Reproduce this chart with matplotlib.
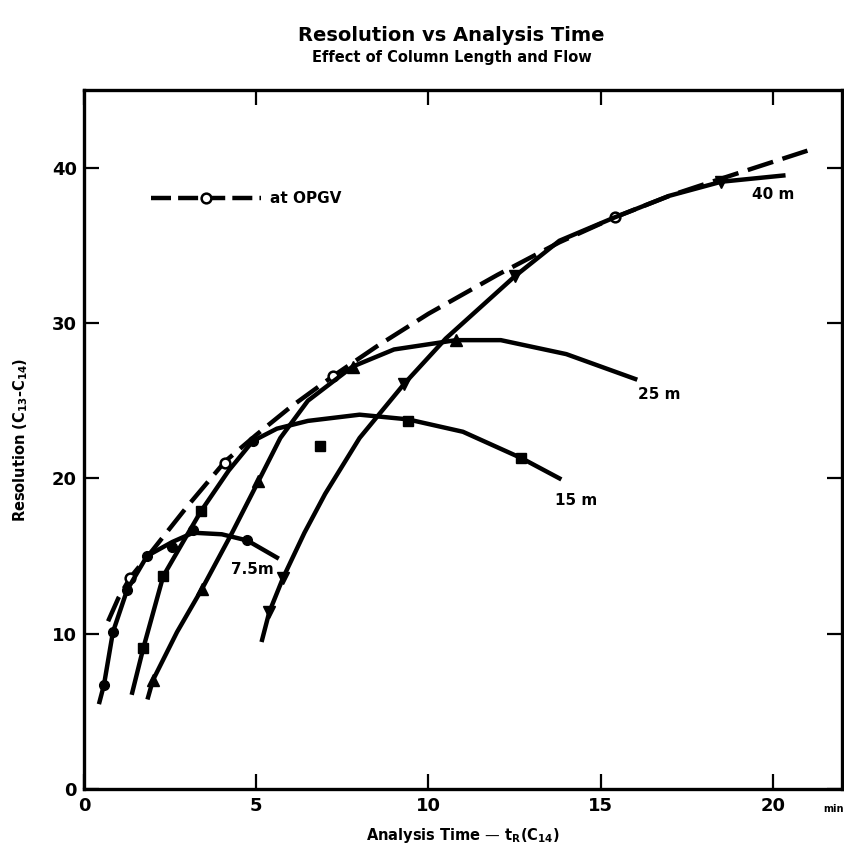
import matplotlib
matplotlib.use("Agg")
import matplotlib.pyplot as plt
from matplotlib.lines import Line2D

plt.rcParams['font.family'] = ['DejaVu Sans']
plt.rcParams['font.weight'] = 'bold'

# OPGV envelope (dashed) and its open-circle points
opgv_x = [0.7, 1.0, 1.34, 2.0, 3.0, 4.1, 5.0, 6.0, 7.24, 8.5, 10.0, 12.0, 13.8, 15.4, 17.0, 18.5, 21.0]
opgv_y = [10.8, 12.3, 13.6, 15.4, 18.2, 21.1, 22.8, 24.6, 26.6, 28.5, 30.6, 33.1, 35.2, 36.8, 38.2, 39.3, 41.1]
opgv_pts_x = [1.34, 4.1, 7.24, 15.4]
opgv_pts_y = [13.6, 21.0, 26.6, 36.8]

# 7.5 m column
c75_x = [0.45, 0.58, 0.84, 1.25, 1.83, 2.56, 3.17, 4.0, 4.74, 5.6]
c75_y = [5.6, 6.7, 10.1, 12.8, 15.0, 15.9, 16.5, 16.4, 16.0, 14.9]
c75_pts_x = [0.58, 0.84, 1.25, 1.83, 2.56, 3.17, 4.74, 4.9]
c75_pts_y = [6.7, 10.1, 12.8, 15.0, 15.6, 16.7, 16.0, 22.4]

# 15 m column
c15_x = [1.4, 1.72, 2.3, 2.9, 3.4, 4.2, 4.9, 5.6, 6.5, 8.0, 9.4, 11.0, 12.7, 13.8]
c15_y = [6.2, 9.05, 13.7, 16.0, 17.9, 20.5, 22.4, 23.2, 23.7, 24.1, 23.8, 23.0, 21.3, 20.0]
c15_pts_x = [1.72, 2.3, 3.4, 6.86, 9.4, 12.7]
c15_pts_y = [9.05, 13.7, 17.9, 22.1, 23.7, 21.3]

# 25 m column
c25_x = [1.86, 2.0, 2.7, 3.43, 4.3, 5.06, 5.7, 6.5, 7.8, 9.0, 10.8, 12.1, 14.0, 16.0]
c25_y = [5.9, 7.0, 10.1, 12.9, 16.5, 19.8, 22.6, 25.0, 27.2, 28.3, 28.9, 28.9, 28.0, 26.4]
c25_pts_x = [2.0, 3.43, 5.06, 7.8, 10.8]
c25_pts_y = [7.0, 12.9, 19.8, 27.2, 28.9]

# 40 m column
c40_x = [5.17, 5.38, 5.78, 6.4, 7.0, 8.0, 9.3, 10.5, 12.5, 13.8, 15.4, 17.0, 18.5, 20.3]
c40_y = [9.6, 11.4, 13.6, 16.5, 19.0, 22.6, 26.1, 29.0, 33.0, 35.3, 36.8, 38.2, 39.1, 39.5]
c40_pts_x = [5.38, 5.78, 9.3, 12.5, 18.5]
c40_pts_y = [11.4, 13.6, 26.1, 33.0, 39.1]

curve_labels = ['7.5m', '15 m', '25 m', '40 m']
label_x = [4.9, 14.3, 16.7, 20.0]
label_y = [14.1, 18.6, 25.4, 38.3]

fig = plt.figure(figsize=(8.44, 8.5), dpi=100)
ax = fig.add_axes([0.0995, 0.0718, 0.898, 0.8222])

lw = 3.2
ax.plot(opgv_x, opgv_y, color='black', lw=lw, dashes=(6, 2.2), solid_capstyle='butt')
ax.plot(opgv_pts_x, opgv_pts_y, 'o', mfc='white', mec='black', mew=1.8, ms=7, ls='none')

ax.plot(c75_x, c75_y, color='black', lw=lw)
ax.plot(c75_pts_x, c75_pts_y, 'o', color='black', ms=7, ls='none')

ax.plot(c15_x, c15_y, color='black', lw=lw)
ax.plot(c15_pts_x, c15_pts_y, 's', mfc='black', mec='black', ms=6.5, ls='none')

ax.plot(c25_x, c25_y, color='black', lw=lw)
ax.plot(c25_pts_x, c25_pts_y, '^', color='black', ms=9, ls='none')

ax.plot(c40_x, c40_y, color='black', lw=lw)
ax.plot(c40_pts_x, c40_pts_y, 'v', color='black', ms=9, ls='none')

for lab, lx, ly in zip(curve_labels, label_x, label_y):
    ax.text(lx, ly, lab, fontsize=11, fontweight='bold', ha='center', va='center')

legend_handle = Line2D([0, 1], [0, 0], color='black', lw=lw, dashes=(4.5, 1.6), marker='o',
                       mfc='white', mec='black', mew=1.8, ms=7)
ax.legend([legend_handle], ['at OPGV'], loc='upper left', bbox_to_anchor=(0.07, 0.875),
          frameon=False, handlelength=7.2, handletextpad=0.6, numpoints=1,
          prop={'size': 11, 'weight': 'bold'})

ax.set_xlim(0, 22)
ax.set_ylim(0, 45)
ax.set_xticks([0, 5, 10, 15, 20])
ax.set_yticks([0, 10, 20, 30, 40])
ax.tick_params(direction='in', length=11, width=1.6, top=True, right=True,
               labelsize=13, pad=5)
ax.tick_params(axis='x', pad=6)
for lbl in ax.get_xticklabels() + ax.get_yticklabels():
    lbl.set_fontweight('bold')
for sp in ax.spines.values():
    sp.set_linewidth(2.4)

ax.text(21.75, -0.022, 'min', transform=ax.get_xaxis_transform(), fontsize=7,
        fontweight='bold', ha='center', va='top')

ax.set_xlabel('Analysis Time — t$_\\mathbf{R}$(C$_\\mathbf{14}$)', fontsize=10.5,
              fontweight='bold', labelpad=8)
ax.set_ylabel('Resolution (C$_\\mathbf{13}$-C$_\\mathbf{14}$)', fontsize=10.5,
              fontweight='bold', labelpad=16)

fig.text(0.535, 0.958, 'Resolution vs Analysis Time', ha='center', va='center',
         fontsize=14, fontweight='bold')
fig.text(0.535, 0.932, 'Effect of Column Length and Flow', ha='center', va='center',
         fontsize=10.5, fontweight='bold')

fig.savefig('out.png', dpi=100)
